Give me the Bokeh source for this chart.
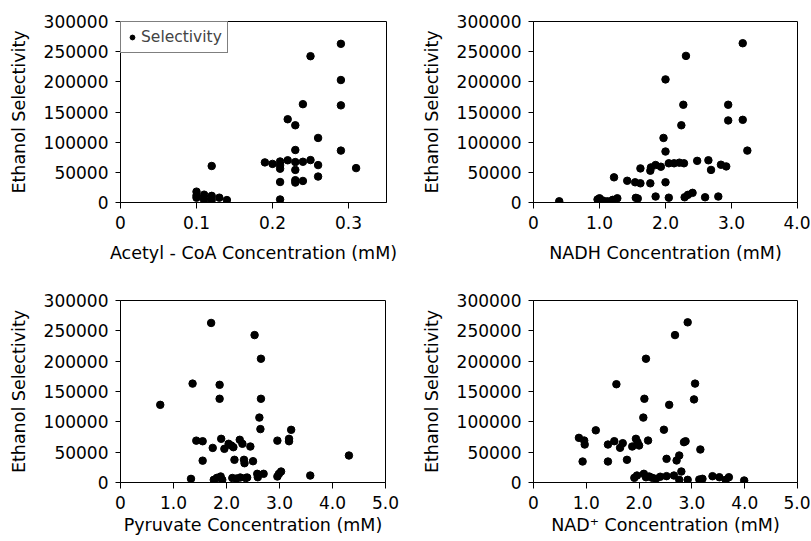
from bokeh.plotting import figure
from bokeh.layouts import column, row
from bokeh.models import FixedTicker, Range1d, Legend, LegendItem
from bokeh.embed import file_html
from bokeh.resources import INLINE

# ---------------- data ----------------
y_ticks = [0, 50000, 100000, 150000, 200000, 250000, 300000]
y_tick_labels = ["0", "50000", "100000", "150000", "200000", "250000", "300000"]

acetyl_ticks = [0, 0.1, 0.2, 0.3]
acetyl_tick_labels = ["0", "0.1", "0.2", "0.3"]
nadh_ticks = [0, 1, 2, 3, 4]
nadh_tick_labels = ["0", "1.0", "2.0", "3.0", "4.0"]
five_ticks = [0, 1, 2, 3, 4, 5]
five_tick_labels = ["0", "1.0", "2.0", "3.0", "4.0", "5.0"]

acetyl_x = [0.10, 0.10, 0.10, 0.11, 0.11, 0.11, 0.12, 0.12, 0.12, 0.13, 0.14,
            0.19, 0.20, 0.21, 0.21, 0.21, 0.21, 0.21, 0.22, 0.22,
            0.23, 0.23, 0.23, 0.23, 0.23, 0.23, 0.24, 0.24, 0.24, 0.25, 0.25,
            0.26, 0.26, 0.26, 0.29, 0.29, 0.29, 0.29, 0.31]
acetyl_y = [18000, 11500, 8000, 13000, 8000, 4000, 60500, 11000, 4000, 8000, 4000,
            66500, 64000, 68000, 62000, 56000, 34000, 5000, 138000, 70000,
            128000, 87000, 67000, 54000, 37000, 33000, 163000, 67500, 35700, 242500, 70300,
            107000, 62000, 43000, 263000, 203000, 161000, 86000, 57000]

nadh_x = [0.39, 0.97, 1.00, 1.05, 1.12, 1.20, 1.27, 1.55, 1.58, 1.85, 2.05, 2.29, 2.34, 2.41, 2.60, 2.80,
          1.22, 1.42, 1.54, 1.62, 1.62, 1.77, 1.78, 1.77, 1.85, 1.93, 2.00, 2.05, 2.13, 2.21, 2.28,
          2.48, 2.65, 2.69, 2.84, 2.92,
          2.00, 1.97, 2.00, 2.24, 2.27, 2.31, 2.95, 2.95, 3.17, 3.17, 3.24]
nadh_y = [2000, 5000, 7000, 3300, 2000, 4400, 7000, 7700, 6600, 9900, 8000, 8700, 12700, 16000, 8700, 9900,
          41700, 36000, 33500, 31800, 56500, 52700, 58200, 31800, 62100, 59300, 33500, 65000, 65000, 66000, 65000,
          69000, 70000, 54000, 62600, 59800,
          84500, 107000, 204000, 128000, 162000, 243000, 162000, 136000, 264000, 137000, 86000]

pyruvate_x = [0.75, 1.71, 1.36, 1.87, 1.87, 2.53, 2.65, 2.65, 2.62, 2.64,
              1.43, 1.55, 1.55, 1.74, 1.90, 1.96, 2.04, 2.09, 2.13, 2.15, 2.25, 2.30, 2.33, 2.34,
              2.45, 2.50, 2.96, 3.18, 3.18, 3.22, 4.31, 3.58,
              1.33, 1.76, 1.82, 1.89, 1.92, 2.11, 2.19, 2.26, 2.36, 2.39, 2.58, 2.59, 2.70, 2.96, 2.99, 3.03]
pyruvate_y = [128000, 263000, 163000, 161000, 138000, 243000, 204000, 138000, 107000, 88000,
              69000, 68000, 36000, 57000, 72000, 55500, 63800, 61000, 58200, 37400, 70400, 63800, 37400, 31800,
              59300, 35100, 69000, 72000, 68000, 86800, 44500, 11500,
              6000, 4400, 7700, 9900, 4400, 7400, 6600, 8200, 7400, 8200, 14300, 8700, 14300, 9900, 14300, 18100]

nad_x = [2.92, 2.68, 2.13, 1.57, 3.06, 2.10, 3.04, 2.57, 2.08, 2.47, 1.18,
         0.86, 0.96, 0.97, 0.93, 1.41, 1.41, 1.53, 1.64, 1.69, 1.77, 1.87, 1.94, 1.97, 2.00, 2.17,
         2.52, 2.71, 2.76, 2.85, 2.88, 3.16,
         1.91, 1.96, 2.09, 2.13, 2.19, 2.25, 2.32, 2.40, 2.52, 2.66, 2.76, 2.80, 2.92, 3.14, 3.20,
         3.39, 3.52, 3.64, 3.70, 3.99]
nad_y = [264000, 243000, 204000, 162000, 163000, 138000, 137000, 128000, 107000, 87000, 86000,
         73600, 69200, 62600, 34600, 62600, 34600, 68100, 57200, 64800, 37400, 59300, 72000, 66400, 61000, 69200,
         39000, 36300, 44500, 66500, 68000, 54400,
         7700, 11500, 14300, 8700, 9900, 7700, 6100, 9500, 10500, 11500, 4400, 18100, 4400, 4900, 6100,
         10400, 8700, 4400, 8700, 3300]

FONT = "DejaVu Sans"
FS = "17px"
TITLE_FS = "17.5px"


def panel(xs, ys, xmax, xticks, xlabels, xtitle, borders, xtitle_standoff, legend=False):
    left, right, top, bottom = borders
    p = figure(width=405, height=270, x_range=Range1d(0, xmax), y_range=Range1d(0, 300000),
               output_backend="svg", toolbar_location=None,
               min_border_left=left, min_border_right=right,
               min_border_top=top, min_border_bottom=bottom)
    p.xgrid.visible = False
    p.ygrid.visible = False
    p.outline_line_color = "black"
    p.outline_line_width = 1
    p.background_fill_color = "white"
    p.border_fill_color = "white"

    r = p.scatter(xs, ys, size=7.5, color="black")

    xa = p.xaxis[0]
    xa.ticker = FixedTicker(ticks=xticks)
    xa.major_label_overrides = {t: l for t, l in zip(xticks, xlabels)}
    xa.axis_label = xtitle
    ya = p.yaxis[0]
    ya.ticker = FixedTicker(ticks=y_ticks)
    ya.major_label_overrides = {t: l for t, l in zip(y_ticks, y_tick_labels)}
    ya.axis_label = "Ethanol Selectivity"
    for ax in (xa, ya):
        ax.axis_line_color = "black"
        ax.axis_line_width = 1
        ax.major_tick_line_color = "black"
        ax.major_tick_in = 0
        ax.minor_tick_line_color = None
        ax.major_label_text_font = FONT
        ax.major_label_text_font_size = FS
        ax.major_label_text_color = "black"
        ax.axis_label_text_font = FONT
        ax.axis_label_text_font_size = TITLE_FS
        ax.axis_label_text_font_style = "normal"
        ax.axis_label_text_color = "black"
    xa.major_tick_out = 6
    xa.major_label_standoff = 7
    xa.axis_label_standoff = xtitle_standoff
    ya.major_tick_out = 5
    ya.major_label_standoff = 7
    ya.axis_label_standoff = 12

    if legend:
        lg = Legend(items=[LegendItem(label="Selectivity", renderers=[r])], location="top_left")
        lg.margin = 0
        lg.padding = 5
        lg.glyph_width = 12
        lg.label_standoff = 3
        lg.label_text_font = FONT
        lg.label_text_font_size = "15.5px"
        lg.border_line_color = "black"
        lg.border_line_width = 1
        lg.background_fill_color = "white"
        lg.background_fill_alpha = 1
        p.add_layout(lg)
    return p


p1 = panel(acetyl_x, acetyl_y, 0.35, acetyl_ticks, acetyl_tick_labels,
           "Acetyl - CoA Concentration (mM)", (120, 19, 20, 68), 11, legend=True)
p2 = panel(nadh_x, nadh_y, 4.0, nadh_ticks, nadh_tick_labels,
           "NADH Concentration (mM)", (128, 13, 21, 68), 11)
p3 = panel(pyruvate_x, pyruvate_y, 5.0, five_ticks, five_tick_labels,
           "Pyruvate Concentration (mM)", (120, 20, 30, 58), 3)
p4 = panel(nad_x, nad_y, 5.0, five_ticks, five_tick_labels,
           "NAD\u207a Concentration (mM)", (128, 13, 30, 58), 3)

layout = column(row(p1, p2), row(p3, p4))

open("out.html", "w").write(file_html(layout, INLINE))
